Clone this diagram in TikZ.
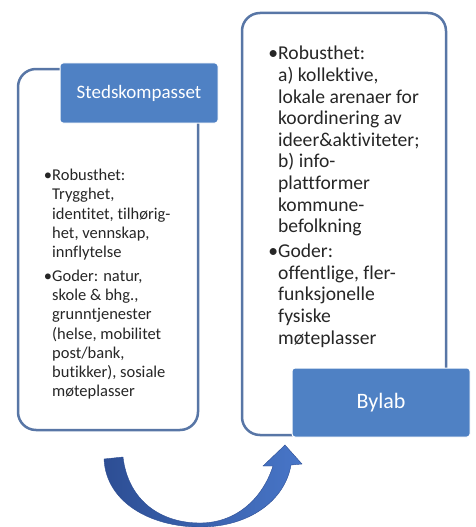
\documentclass[tikz,border=0pt]{standalone}
\usepackage{fontspec}
\setmainfont{Carlito}[Ligatures={NoCommon,NoRare}]
\usetikzlibrary{calc}
\definecolor{frameblue}{RGB}{88,118,166}
\definecolor{boxblue}{RGB}{79,129,196}
\definecolor{txt}{RGB}{38,38,38}
\definecolor{arrowdark}{RGB}{45,78,148}
\definecolor{arrowlight}{RGB}{72,118,200}
\tikzset{
  frame/.style={draw=frameblue, line width=2.5pt, fill=white, rounded corners=18pt, inner sep=0pt},
  titlebox/.style={fill=boxblue, draw=white, line width=1pt, rounded corners=3pt, text=white, inner sep=0pt},
  bodytext/.style={anchor=north west, align=left, inner sep=0pt, text=txt},
}
\begin{document}
\begin{tikzpicture}[x=1pt,y=-1pt]
\useasboundingbox (0,0) rectangle (475,527);
% frames
\node[frame, minimum width=180pt, minimum height=361pt] (lframe) at (108,249.5) {};
\node[frame, minimum width=204pt, minimum height=422pt] (rframe) at (344,224) {};
% title boxes
\node[titlebox, minimum width=158pt, minimum height=60pt, font=\fontsize{19}{22}\selectfont] (sted) at (139,93) {Stedskompasset};
\node[titlebox, minimum width=178pt, minimum height=69pt, font=\fontsize{22}{26}\selectfont] (bylab) at (381,402.5) {Bylab};
% body texts
\node[bodytext, font=\fontsize{16.5}{19.3}\selectfont] (ltext) at (52,169) {%
\llap{•}Robusthet:\\
Trygghet,\\
identitet, tilhørig-\\
het, vennskap,\\
innflytelse\\[4pt]
\llap{•}Goder: natur,\\
skole \& bhg.,\\
grunntjenester\\
(helse, mobilitet\\
post/bank,\\
butikker), sosiale\\
møteplasser};
\node[bodytext, font=\fontsize{19.6}{21.6}\selectfont] (rtext) at (278,46) {%
\llap{•}Robusthet:\\
a) kollektive,\\
lokale arenaer for\\
koordinering av\\
ideer\&aktiviteter;\\
b) info-\\
plattformer\\
kommune-\\
befolkning\\[3.5pt]
\llap{•}Goder:\\
offentlige, fler-\\
funksjonelle\\
fysiske\\
møteplasser};
% curved arrow
\coordinate (atip) at (285,445);
\shade[left color=arrowdark, right color=arrowlight, draw=arrowdark, line width=0.4pt]
  (104,459) .. controls (106,502) and (150,527) .. (200,527)
  .. controls (250,527) and (285,500) .. (291,465)
  -- (302,464) -- (atip) -- (263,466) -- (273,466)
  .. controls (262,500) and (235,523) .. (200,523)
  .. controls (160,523) and (128,500) .. (123,457) -- cycle;
\end{tikzpicture}
\end{document}
